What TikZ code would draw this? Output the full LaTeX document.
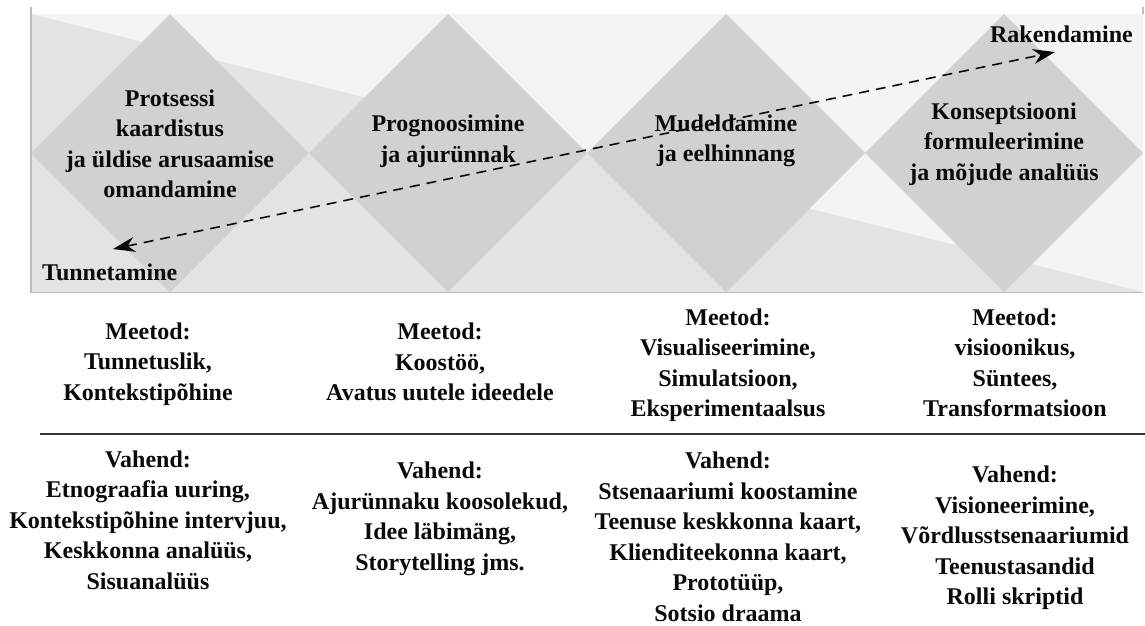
\documentclass[tikz,border=0pt]{standalone}
\usepackage{fontspec}
\setmainfont{Liberation Serif}
\usetikzlibrary{arrows.meta}
\definecolor{bglight}{HTML}{F4F4F4}
\definecolor{bgmid}{HTML}{E3E3E3}
\definecolor{dia}{HTML}{D0D1D0}
\definecolor{framec}{HTML}{BDBDBD}
\definecolor{txt}{HTML}{0A0A0A}
\definecolor{rulec}{HTML}{333333}
\begin{document}
\begin{tikzpicture}[x=1pt,y=-1pt,
  lbl/.style={align=center, font=\fontsize{24}{30.5}\selectfont\bfseries, text=txt, inner sep=0pt},
  diamondfill/.style={fill=dia},
  framestyle/.style={draw=framec, line width=1.2pt},
  flowarrow/.style={line width=1.6pt, dash pattern=on 10pt off 7pt, color=txt,
     {Stealth[length=22pt,width=15pt,inset=7pt]}-{Stealth[length=22pt,width=15pt,inset=7pt]}},
  rulestyle/.style={draw=rulec, line width=2pt}]
\useasboundingbox (0,0) rectangle (1145,625);
\fill[white] (0,0) rectangle (1145,625);
% background band
\fill[bglight] (31,14) rectangle (1143,292);
\fill[bgmid] (31,14) -- (1143,292) -- (31,292) -- cycle;
% diamonds
\foreach \cx in {170,448,726,1004}
  \fill[diamondfill] (\cx,14) -- (\cx+139,153) -- (\cx,292) -- (\cx-139,153) -- cycle;
% frame
\draw[framestyle] (31,7) -- (31,292.5) -- (1143,292.5);
\draw[framestyle] (1143,7) -- (1143,14);
% diamond texts
\node[lbl] (d1) at (170,144) {Protsessi\\kaardistus\\ja üldise arusaamise\\omandamine};
\node[lbl] (d2) at (448,141) {Prognoosimine\\ja ajurünnak};
\node[lbl] (d3) at (726,141) {Mudeldamine\\ja eelhinnang};
\node[lbl] (d4) at (1004,144) {Konseptsiooni\\formuleerimine\\ja mõjude analüüs};
\node[lbl, anchor=west] (tun) at (42,272) {Tunnetamine};
\node[lbl, anchor=east] (rak) at (1133,34) {Rakendamine};
% arrow
\coordinate (s) at (113,249);
\coordinate (e) at (1055,52);
\draw[flowarrow] (s) -- (e);
% methods
\node[lbl] (m1) at (148,364) {Meetod:\\Tunnetuslik,\\Kontekstipõhine};
\node[lbl] (m2) at (440,362) {Meetod:\\Koostöö,\\Avatus uutele ideedele};
\node[lbl] (m3) at (728,365) {Meetod:\\Visualiseerimine,\\Simulatsioon,\\Eksperimentaalsus};
\node[lbl] (m4) at (1015,363) {Meetod:\\visioonikus,\\Süntees,\\Transformatsioon};
% rule
\coordinate (rl) at (40,434);
\coordinate (rr) at (1145,434);
\draw[rulestyle] (rl) -- (rr);
% tools
\node[lbl] (v1) at (148,520) {Vahend:\\Etnograafia uuring,\\Kontekstipõhine intervjuu,\\Keskkonna analüüs,\\Sisuanalüüs};
\node[lbl] (v2) at (440,519) {Vahend:\\Ajurünnaku koosolekud,\\Idee läbimäng,\\Storytelling jms.};
\node[lbl] (v3) at (728,537) {Vahend:\\Stsenaariumi koostamine\\Teenuse keskkonna kaart,\\Klienditeekonna kaart,\\Prototüüp,\\Sotsio draama};
\node[lbl] (v4) at (1015,538) {Vahend:\\Visioneerimine,\\Võrdlusstsenaariumid\\Teenustasandid\\Rolli skriptid};
\end{tikzpicture}
\end{document}
